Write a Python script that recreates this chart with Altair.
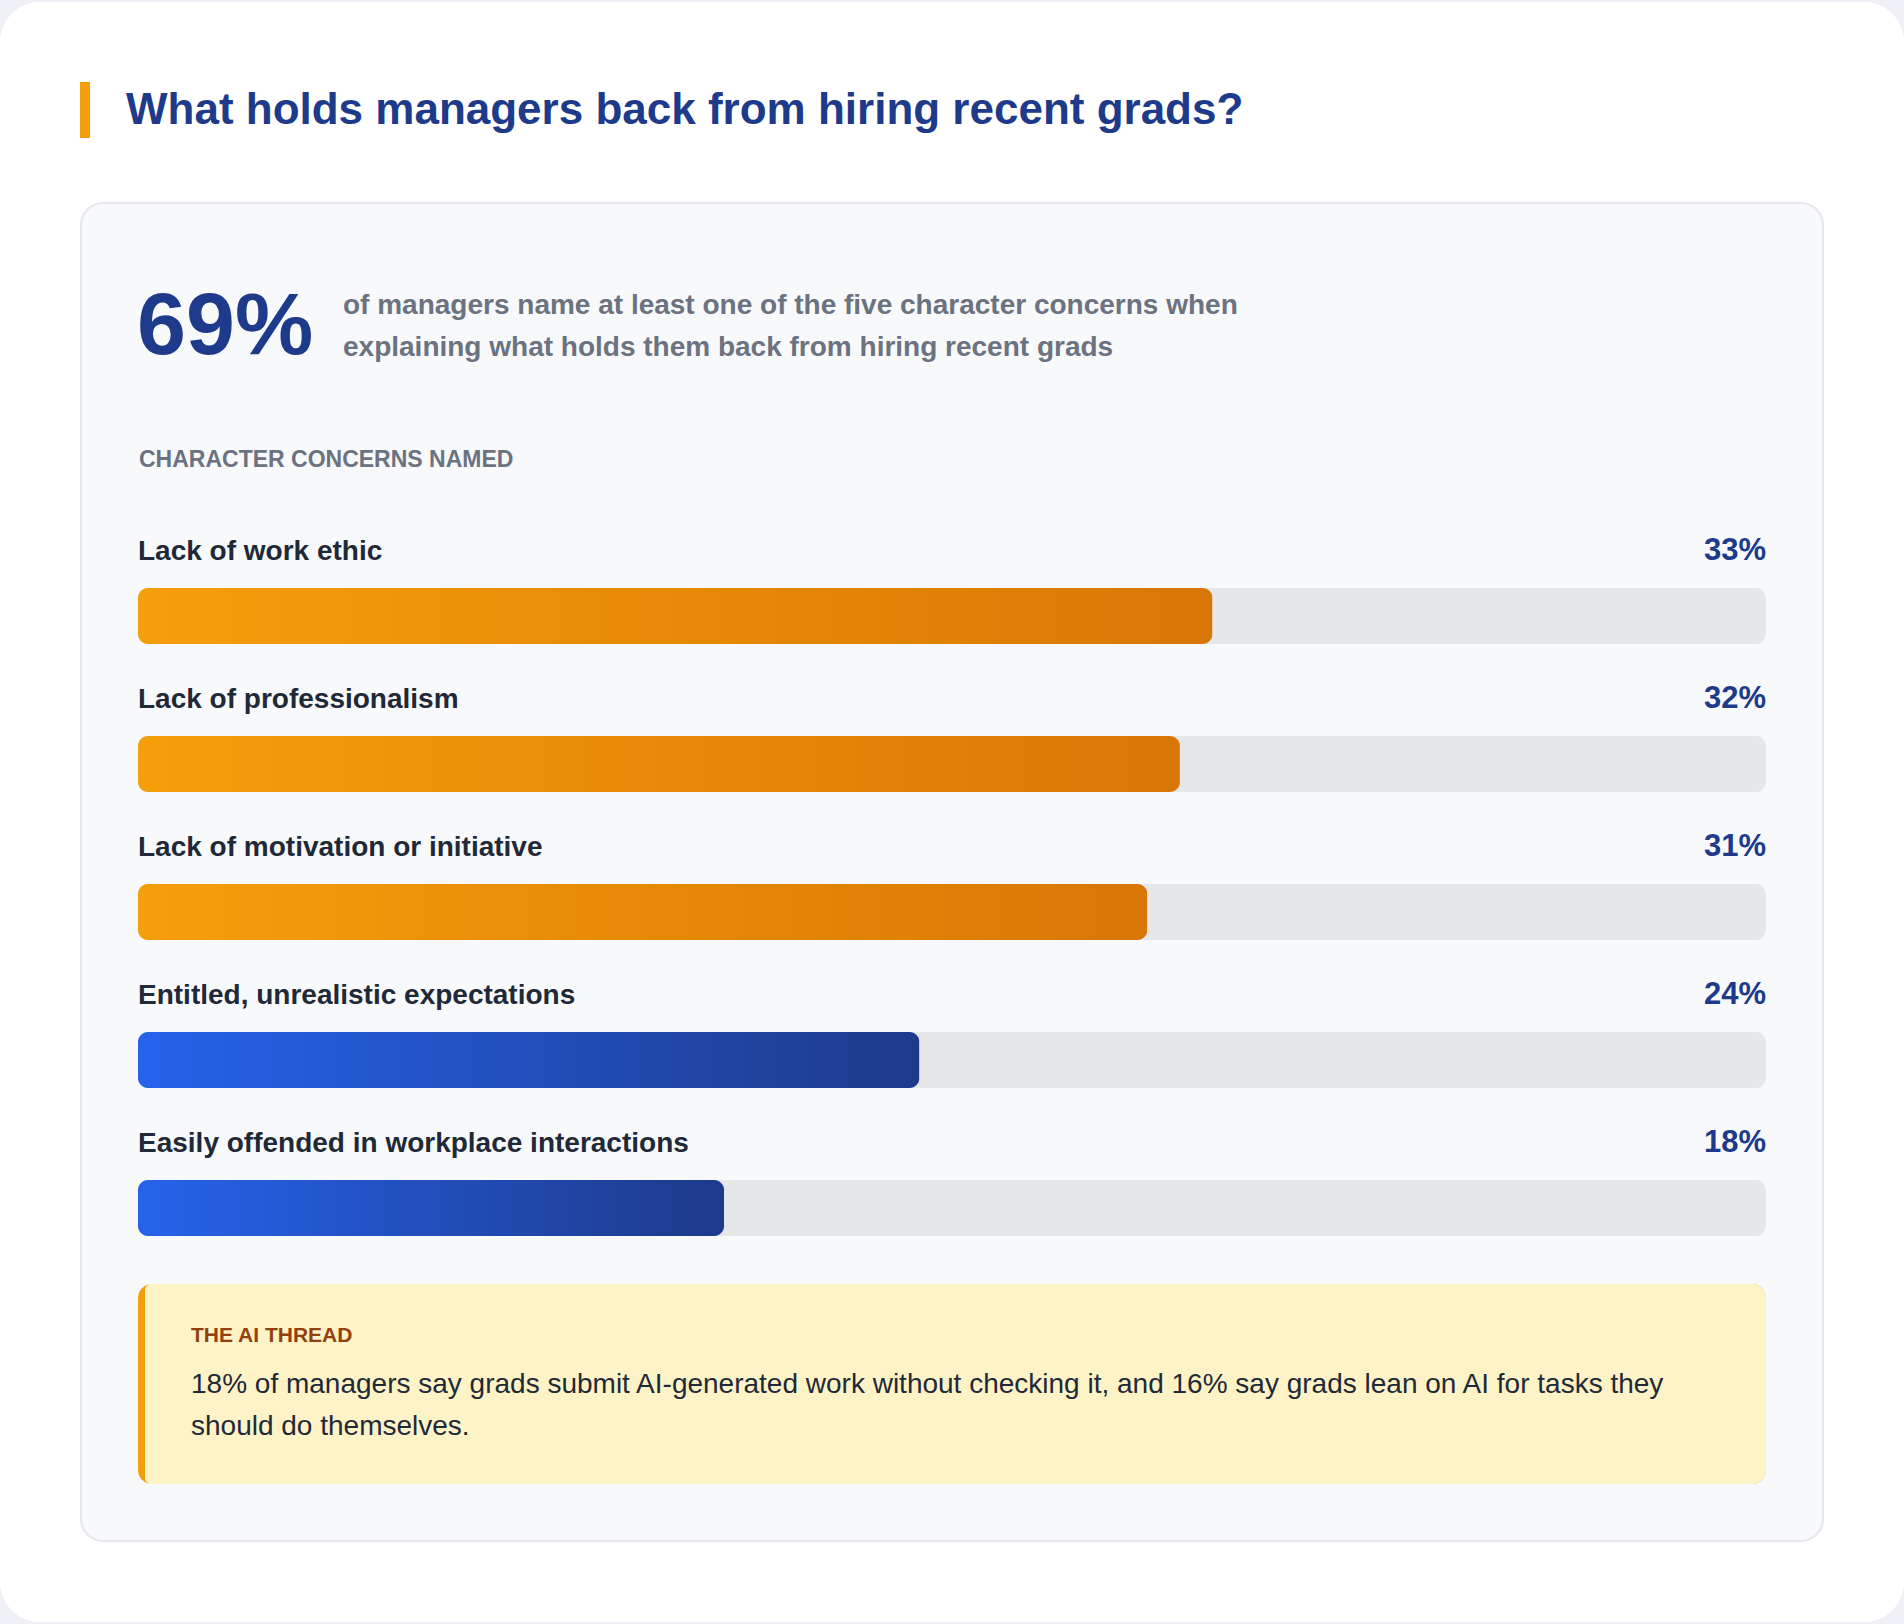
import altair as alt
import pandas as pd

# ---------------- data ----------------
categories = [
    "Lack of work ethic",
    "Lack of professionalism",
    "Lack of motivation or initiative",
    "Entitled, unrealistic expectations",
    "Easily offended in workplace interactions",
]
values = [33, 32, 31, 24, 18]
groups = ["amber", "amber", "amber", "blue", "blue"]
value_labels = ["33%", "32%", "31%", "24%", "18%"]
scale_max = 50

title_text = "What holds managers back from hiring recent grads?"
headline_value = "69%"
headline_lines = [
    "of managers name at least one of the five character concerns when",
    "explaining what holds them back from hiring recent grads",
]
section_label = "CHARACTER CONCERNS NAMED"
callout_label = "THE AI THREAD"
callout_lines = [
    "18% of managers say grads submit AI-generated work without checking it, and 16% say grads lean on AI for tasks they",
    "should do themselves.",
]

FONT = "Liberation Sans"
W, H = 1904, 1624

df = pd.DataFrame({
    "cat": categories,
    "value": values,
    "group": groups,
    "vlabel": value_labels,
    "maxv": [scale_max] * len(categories),
})

one = pd.DataFrame({"k": [0]})

# shared scales
xscale = alt.Scale(domain=[0, scale_max], range=[138, 1766], zero=True, nice=False)
yscale = alt.Scale(domain=categories, range=[588, 1236], paddingInner=92 / 148, paddingOuter=0)
X = lambda f: alt.X(f, type="quantitative", scale=xscale, axis=None)
Y = alt.Y("cat:N", scale=yscale, axis=None)


def rect(x, x2, y, y2, fill, **kw):
    return alt.Chart(one).mark_rect(fill=fill, **kw).encode(
        x=alt.value(x), x2=alt.value(x2), y=alt.value(y), y2=alt.value(y2)
    )


def text(t, x, y, size, color, weight="normal", align="left", **kw):
    return alt.Chart(one).mark_text(
        text=t, font=FONT, fontSize=size, fontWeight=weight, color=color,
        align=align, baseline="alphabetic", **kw
    ).encode(x=alt.value(x), y=alt.value(y))


# ---------------- decorations ----------------
page = rect(0, 1904, 2, 1622, "#ffffff", cornerRadius=40)
accent = rect(80, 90, 82, 138, "#f59e0b")
title = text(title_text, 126, 124, 44, "#1e3a8a", "bold")
card = rect(81, 1823, 203, 1541, "#f8f9fb", cornerRadius=22, stroke="#e5e7eb", strokeWidth=2)
big = text(headline_value, 137, 354, 88, "#1e3a8a", "bold")
desc = text(headline_lines, 343, 314, 28, "#6b7280", "bold", lineHeight=42)
section = text(section_label, 139, 467, 23, "#6b7280", "bold")

callout_border = rect(138, 1766, 1284, 1484, "#f59e0b", cornerRadius=14)
callout_fill = rect(145, 1766, 1284, 1484, "#fef3c7",
                    cornerRadiusTopLeft=6, cornerRadiusBottomLeft=6,
                    cornerRadiusTopRight=14, cornerRadiusBottomRight=14)
callout_title = text(callout_label, 191, 1342, 21, "#92400e", "bold")
callout_body = text(callout_lines, 191, 1393, 28, "#1f2937", "normal", lineHeight=42)

# ---------------- bars ----------------
base = alt.Chart(df)

track = base.mark_bar(cornerRadius=10, color="#e5e7eb").encode(x=X("maxv"), y=Y)

amber_grad = alt.LinearGradient(
    gradient="linear", x1=0, x2=1, y1=0, y2=0,
    stops=[alt.GradientStop(offset=0, color="#f59e0b"),
           alt.GradientStop(offset=1, color="#d97706")],
)
blue_grad = alt.LinearGradient(
    gradient="linear", x1=0, x2=1, y1=0, y2=0,
    stops=[alt.GradientStop(offset=0, color="#2563eb"),
           alt.GradientStop(offset=1, color="#1e3a8a")],
)

bars_amber = base.transform_filter(alt.datum.group == "amber").mark_bar(
    cornerRadius=10, color=amber_grad).encode(x=X("value"), y=Y)
bars_blue = base.transform_filter(alt.datum.group == "blue").mark_bar(
    cornerRadius=10, color=blue_grad).encode(x=X("value"), y=Y)

labels = base.mark_text(
    font=FONT, fontSize=28, fontWeight="bold", color="#1f2937",
    align="left", baseline="alphabetic", dy=-56,
).encode(x=alt.value(138), y=Y, text="cat:N")

vlabels = base.mark_text(
    font=FONT, fontSize=31, fontWeight="bold", color="#1e3a8a",
    align="right", baseline="alphabetic", dy=-56,
).encode(x=alt.value(1766), y=Y, text="vlabel:N")

chart = alt.layer(
    page, accent, title, card, big, desc, section,
    track, bars_amber, bars_blue, labels, vlabels,
    callout_border, callout_fill, callout_title, callout_body,
).properties(
    width=W, height=H, padding=0, autosize=alt.AutoSizeParams(type="none"),
    background="#eef0f5",
).configure_view(stroke=None)

chart.save("out.html", embed_options={"renderer": "svg", "actions": False})
